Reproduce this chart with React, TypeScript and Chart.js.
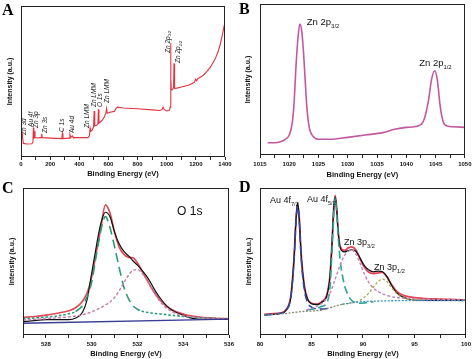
import React, { useEffect, useRef } from 'react';
import { Chart, registerables } from 'chart.js';

Chart.register(...registerables);

const W = 474;
const H = 359;
const FONT = '"Liberation Sans", Arial, Helvetica, sans-serif';
const SERIF = '"Liberation Serif", "Times New Roman", serif';

// ---------- Panel A : survey spectrum ----------
const surveyEnergy = [0, 6, 9, 11, 16, 40, 75, 82, 85, 88, 92, 96, 110, 138, 142, 146, 200, 280, 284, 288, 330, 336, 342, 352, 356, 360, 460, 470, 474, 478, 490, 498, 502, 506, 520, 528, 531, 535, 555, 572, 582, 587, 592, 610, 640, 652, 662, 700, 800, 900, 955, 968, 975, 982, 1000, 1015, 1020, 1024, 1027, 1029, 1032, 1040, 1047, 1050, 1052.5, 1056, 1070, 1100, 1150, 1190, 1198, 1205, 1215, 1250, 1275, 1300, 1330, 1350, 1366, 1380, 1393, 1400];
const surveyIntensity = [12.4, 13, 15, 13, 9, 8.6, 8.8, 10, 19.5, 12, 17, 13, 12.6, 12.8, 15.4, 12.8, 12.5, 12.2, 15.6, 12.2, 12.5, 15, 13, 14, 13.2, 12.8, 12.8, 14, 19, 17, 18, 20, 30.5, 20.5, 21, 22, 31.6, 22.5, 24, 26.5, 29, 32.2, 29, 29.6, 30.2, 32, 33, 32.4, 32, 31.2, 30.8, 31.5, 33, 31.5, 30.5, 30.8, 31.5, 33, 75.3, 52, 44.5, 44.6, 46, 62, 48, 45.5, 45.6, 46.4, 47.5, 49.5, 51.5, 50.5, 52, 54, 56.5, 59.5, 64.5, 69, 74, 80, 86.3, 89];
const surveyLabelText = ['Zn 3d', 'Au 4f', 'Zn 3p', 'Zn 3s', 'C 1s', 'Au 4d', 'Zn LMM', 'Zn LMM', 'O 1s', 'Zn LMM', 'Zn 2p', 'Zn 2p'];
const surveyLabelSub = ['', '', '', '', '', '', '', '', '', '', '3/2', '1/2'];
const surveyLabelX = [24, 69, 103, 168, 285, 353, 456, 504, 546, 594, 1009, 1081];
const surveyLabelY = [14.6, 19.9, 19.2, 15.9, 16.6, 15.9, 19.2, 33.1, 33.1, 35.8, 68.9, 62.3];

// ---------- Panel B : Zn 2p ----------
const zn2pEnergy = [1016.3, 1017.5, 1018.5, 1019.3, 1020, 1020.5, 1020.8, 1021.2, 1021.5, 1021.8, 1022.1, 1022.4, 1022.7, 1023, 1023.3, 1023.6, 1024, 1025, 1027, 1030, 1033, 1036, 1038, 1040, 1042, 1043, 1043.8, 1044.3, 1044.85, 1045.3, 1045.8, 1046.3, 1047, 1048, 1050];
const zn2pIntensity = [8.1, 8.1, 8.8, 10.4, 13.2, 21, 33, 62, 78, 86.8, 83, 70, 51, 32, 21, 15.5, 12.6, 10.4, 10.4, 11.7, 13.2, 14.8, 17, 18.3, 19.2, 23.2, 36.4, 49.7, 55.8, 49.7, 32, 22, 19.2, 18.7, 18.3];
const zn2pLabelText = ['Zn 2p', 'Zn 2p'];
const zn2pLabelSub = ['3/2', '1/2'];
const zn2pLabelX = [1023.0, 1042.2];
const zn2pLabelY = [86, 59];

// ---------- Panel C : O 1s ----------
const o1sEnergy = [527, 527.5, 528, 528.5, 529, 529.3, 529.6, 529.8, 530.0, 530.2, 530.4, 530.6, 530.8, 531.0, 531.2, 531.4, 531.6, 531.8, 532.0, 532.2, 532.4, 532.6, 532.8, 533.0, 533.3, 533.6, 534.0, 534.4, 534.8, 535.4, 536];
const o1sFit = [12.0, 12.6, 13.5, 14.8, 16.5, 18.5, 23, 28.5, 39.5, 56, 73, 88.5, 83, 70, 60, 55, 53, 52.5, 49, 43.5, 38, 32.5, 27.5, 23.5, 19.3, 16.5, 14.3, 12.8, 12, 11.4, 11];
const o1sRaw = [9, 9.8, 10.4, 10.5, 10.4, 11.5, 15.5, 24, 42, 60, 76, 83.5, 80.5, 70, 62, 57, 54, 50.5, 47.5, 44, 40, 35, 29.5, 25, 19.5, 16, 13.5, 11.3, 10.7, 10.6, 10.6];
const o1sLattice = [11, 11.6, 12.2, 13, 14.5, 16, 20, 26, 36, 54, 71, 80.5, 73, 60, 46, 33, 25, 20, 17.5, 16.2, 15.5, 15, 14.6, 14.3, 13.8, 13.3, 12.6, 12.1, 11.7, 11.3, 11];
const o1sDefect = [10, 10.6, 11.1, 11.7, 12.3, 12.9, 13.8, 14.6, 15.8, 17.1, 18.7, 20.3, 22.5, 25.5, 30, 35.5, 40.5, 44, 44.5, 42, 37.5, 32, 27, 22.5, 18, 15.3, 13.2, 12.2, 11.6, 11.2, 11];
const o1sBaseEnergy = [527, 536];
const o1sBase = [8, 10.8];
const o1sLabelText = ['O 1s'];
const o1sLabelX = [533.73];
const o1sLabelY = [81.6];

// ---------- Panel D : Au 4f / Zn 3p ----------
const dEnergy = [80.4, 81, 82, 82.5, 83.0, 83.3, 83.5, 83.65, 83.8, 84.0, 84.3, 84.6, 85, 85.5, 86, 86.5, 86.8, 87.0, 87.15, 87.3, 87.45, 87.6, 87.8, 88.2, 88.6, 88.9, 89.3, 89.7, 90.1, 90.5, 91.0, 91.5, 91.9, 92.3, 92.8, 93.3, 94, 95, 97, 100];
const dFit = [14.1, 14.4, 15.1, 17, 27, 52, 79, 89, 81, 55, 34, 25, 21.6, 21, 22.7, 27.7, 41, 63.5, 85, 95, 86, 70, 60, 57.5, 59.4, 60, 58, 52.2, 46.5, 43, 41.7, 42.3, 42.6, 39.7, 34, 29.5, 26.8, 25.4, 24.5, 23.8];
const dRaw = [13.5, 13.9, 14.6, 16.5, 26, 51, 79, 90, 80, 54, 33, 24.5, 21.2, 20.6, 22.3, 27, 40, 63, 85, 94, 85, 69, 59, 56.5, 57.5, 58, 57, 52.5, 47.5, 44.5, 43, 43.5, 43, 40, 33.5, 28.5, 25.5, 23.8, 23.6, 23.5];
const au72Energy = [80.4, 81, 82, 82.5, 83.0, 83.3, 83.5, 83.65, 83.8, 84.0, 84.3, 84.6, 85, 85.5, 86, 86.5, 87];
const au72 = [13.6, 14, 14.8, 16.5, 26, 50, 77, 87.5, 79, 52, 31, 22.5, 19, 17.8, 17.6, 18, 18.6];
const au52Energy = [84.5, 85, 85.5, 86, 86.5, 86.8, 87.0, 87.15, 87.3, 87.45, 87.6, 87.8, 88.2, 88.6, 88.9, 89.3, 89.7, 90.1, 90.5, 91];
const au52 = [17, 17.5, 18.2, 19.5, 22, 33, 58, 80, 93, 82, 66, 50, 34, 26.5, 23.5, 22, 21.6, 21.8, 22.2, 22.6];
const zn32Energy = [84.5, 85, 85.5, 86, 86.5, 86.8, 87.0, 87.3, 87.6, 87.8, 88.2, 88.6, 88.9, 89.3, 89.7, 90.1, 90.5, 91.0, 91.5, 91.9, 92.3, 92.8, 93.3, 94, 95, 97, 100];
const zn32 = [17, 18, 19.5, 21.5, 25, 28.5, 32, 38, 44, 48, 54, 57, 57.8, 55, 49, 42, 36.5, 32, 29.5, 28, 27, 26, 25.5, 25, 24.6, 24.2, 23.8];
const zn12Energy = [88, 88.6, 89.3, 89.7, 90.1, 90.5, 91.0, 91.5, 91.9, 92.3, 92.8, 93.3, 94, 95, 96];
const zn12 = [20.9, 21.5, 22.5, 23.5, 25.5, 28, 32.5, 36.5, 38, 36.5, 32, 28, 25, 24, 23.8];
const dBaseEnergy = [80.4, 82, 84, 86, 87, 88, 89, 90, 92, 95, 100];
const dBase = [13.6, 14.3, 15.9, 17, 19, 20.9, 22, 22.7, 23.2, 23.4, 23.3];
const dLabelText = ['Au 4f', 'Au 4f', 'Zn 3p', 'Zn 3p'];
const dLabelSub = ['7/2', '5/2', '3/2', '1/2'];
const dLabelX = [80.97, 84.56, 88.16, 91.07];
const dLabelY = [89.8, 90.5, 61.2, 44.2];

const zip = (xs: number[], ys: number[]) => xs.map((x, i) => ({ x, y: ys[i] }));

type Label = { text: string; sub: string; x: number; y: number };
const mkLabels = (t: string[], s: string[], x: number[], y: number[]): Label[] =>
  t.map((text, i) => ({ text, sub: s[i] || '', x: x[i], y: y[i] }));

type Panel = {
  letter: string;
  letterX: number;
  letterY: number;
  box: { left: number; top: number; right: number; bottom: number };
  yTitleX: number;
  xTitleY: number;
  xMin: number;
  xMax: number;
  step: number;
  major: number;
  tickPad: number;
  datasets: any[];
  labels: Label[];
  labelSize: number;
  labelItalic: boolean;
  rotated: boolean;
  labelColor: string;
};

const line = (data: any[], color: string, width: number, extra: any = {}) => ({
  data,
  borderColor: color,
  borderWidth: width,
  pointRadius: 0,
  fill: false,
  cubicInterpolationMode: 'monotone',
  ...extra,
});

const panels: Panel[] = [
  {
    letter: 'A', letterX: 2, letterY: 15,
    box: { left: 21, top: 6, right: 225, bottom: 157 },
    yTitleX: 10, xTitleY: 174,
    xMin: 0, xMax: 1400, step: 100, major: 200, tickPad: 1,
    datasets: [line(zip(surveyEnergy, surveyIntensity), '#e2343f', 1.1, { cubicInterpolationMode: 'default', tension: 0 })],
    labels: mkLabels(surveyLabelText, surveyLabelSub, surveyLabelX, surveyLabelY),
    labelSize: 6.5, labelItalic: true, rotated: true, labelColor: '#222',
  },
  {
    letter: 'B', letterX: 239, letterY: 14,
    box: { left: 260, top: 4, right: 466, bottom: 155 },
    yTitleX: 248, xTitleY: 174.5,
    xMin: 1015, xMax: 1050, step: 2.5, major: 5, tickPad: 2.5,
    datasets: [line(zip(zn2pEnergy, zn2pIntensity), '#c4589e', 1.6)],
    labels: mkLabels(zn2pLabelText, zn2pLabelSub, zn2pLabelX, zn2pLabelY),
    labelSize: 9.5, labelItalic: false, rotated: false, labelColor: '#111',
  },
  {
    letter: 'C', letterX: 2, letterY: 193,
    box: { left: 23, top: 188, right: 229, bottom: 335 },
    yTitleX: 12.5, xTitleY: 354,
    xMin: 527, xMax: 536, step: 1, major: 2, tickPad: 3,
    datasets: [
      line(zip(o1sBaseEnergy, o1sBase), '#3a3d95', 1.3, { cubicInterpolationMode: 'default', tension: 0 }),
      line(zip(o1sEnergy, o1sDefect), '#c97aa9', 1.4, { borderDash: [3, 2] }),
      line(zip(o1sEnergy, o1sLattice), '#2b9a72', 1.6, {
        segment: {
          borderDash: (ctx: any) => (ctx.p0.parsed.y > 19 || ctx.p1.parsed.y > 19 ? [9, 5] : [2.5, 2]),
        },
      }),
      line(zip(o1sEnergy, o1sRaw), '#111111', 1.2),
      line(zip(o1sEnergy, o1sFit), '#e24a58', 1.7),
    ],
    labels: mkLabels(o1sLabelText, [''], o1sLabelX, o1sLabelY),
    labelSize: 12, labelItalic: false, rotated: false, labelColor: '#111',
  },
  {
    letter: 'D', letterX: 239, letterY: 192,
    box: { left: 260, top: 188, right: 466, bottom: 335 },
    yTitleX: 249.5, xTitleY: 354,
    xMin: 80, xMax: 100, step: 2.5, major: 5, tickPad: 3,
    datasets: [
      line(zip(dBaseEnergy, dBase), '#3a8fc4', 1.3, {
        borderDash: [2, 1.5],
        segment: { borderColor: (ctx: any) => (ctx.p0.parsed.x < 87.5 ? '#8a8a6c' : '#3a8fc4') },
      }),
      line(zip(zn12Energy, zn12), '#a9a83e', 1.3, { borderDash: [2.5, 2] }),
      line(zip(zn32Energy, zn32), '#c67ec2', 1.4, { borderDash: [3, 2] }),
      line(zip(au52Energy, au52), '#2aa596', 1.6, { borderDash: [8, 4] }),
      line(zip(au72Energy, au72), '#2d4aa0', 1.6, { borderDash: [8, 4] }),
      line(zip(dEnergy, dRaw), '#111111', 1.2),
      line(zip(dEnergy, dFit), '#e2455a', 1.8),
    ],
    labels: mkLabels(dLabelText, dLabelSub, dLabelX, dLabelY),
    labelSize: 9, labelItalic: false, rotated: false, labelColor: '#111',
  },
];

function buildConfig(p: Panel): any {
  const yTitleSize = 7;
  const xTitleSize = 7.5;
  const yLH = yTitleSize * 1.2;
  const xLH = xTitleSize * 1.2;
  const padLeft = p.yTitleX - yLH / 2;
  const yW = p.box.left - padLeft;
  const xH = p.xTitleY + xLH / 2 - p.box.bottom;
  const padBottom = H - p.box.bottom - xH;

  const deco = {
    id: 'deco' + p.letter,
    afterDraw(chart: any) {
      const { ctx, chartArea: a, scales } = chart;
      ctx.save();
      // frame
      ctx.strokeStyle = '#222';
      ctx.lineWidth = 1;
      const l = Math.round(a.left) + 0.5;
      const t = Math.round(a.top) + 0.5;
      const r = Math.round(a.right) - 0.5;
      const b = Math.round(a.bottom) - 0.5;
      ctx.strokeRect(l, t, r - l, b - t);
      // annotations
      ctx.fillStyle = p.labelColor;
      const style = p.labelItalic ? 'italic ' : '';
      for (const lb of p.labels) {
        const px = scales.x.getPixelForValue(lb.x);
        const py = scales.y.getPixelForValue(lb.y);
        ctx.save();
        ctx.translate(px, py);
        if (p.rotated) ctx.rotate(-Math.PI / 2);
        ctx.textAlign = 'left';
        ctx.textBaseline = p.rotated ? 'middle' : 'alphabetic';
        ctx.font = `${style}${p.labelSize}px ${FONT}`;
        ctx.fillText(lb.text, 0, 0);
        if (lb.sub) {
          const w = ctx.measureText(lb.text).width;
          ctx.font = `${style}${p.labelSize * 0.62}px ${FONT}`;
          ctx.fillText(lb.sub, w, p.labelSize * 0.3);
        }
        ctx.restore();
      }
      // panel letter
      ctx.fillStyle = '#000';
      ctx.font = `bold 16px ${SERIF}`;
      ctx.textAlign = 'left';
      ctx.textBaseline = 'alphabetic';
      ctx.fillText(p.letter, p.letterX, p.letterY);
      ctx.restore();
    },
  };

  return {
    type: 'line',
    data: { datasets: p.datasets },
    options: {
      animation: false,
      responsive: false,
      devicePixelRatio: 1,
      parsing: true,
      layout: {
        padding: { left: padLeft, top: p.box.top, right: W - p.box.right, bottom: padBottom },
      },
      plugins: { legend: { display: false }, tooltip: { enabled: false }, title: { display: false } },
      scales: {
        x: {
          type: 'linear',
          min: p.xMin,
          max: p.xMax,
          afterFit: (s: any) => { s.height = xH; },
          border: { display: false },
          grid: { display: true, drawOnChartArea: false, drawTicks: true, tickLength: 3, color: '#222', lineWidth: 1 },
          ticks: {
            stepSize: p.step,
            autoSkip: false,
            maxRotation: 0,
            padding: p.tickPad,
            color: '#111',
            font: { family: FONT, size: 6, weight: 'bold' },
            callback: (v: any) => {
              const n = Number(v);
              return Math.abs(n / p.major - Math.round(n / p.major)) < 1e-6 ? String(n) : '';
            },
          },
          title: {
            display: true,
            text: 'Binding Energy (eV)',
            color: '#111',
            padding: { top: 0, bottom: 0 },
            font: { family: FONT, size: xTitleSize, weight: 'bold' },
          },
        },
        y: {
          type: 'linear',
          min: 0,
          max: 100,
          afterFit: (s: any) => { s.width = yW; },
          border: { display: false },
          grid: { display: false },
          ticks: { display: false },
          title: {
            display: true,
            text: 'Intensity (a.u.)',
            color: '#111',
            padding: { top: 0, bottom: 0 },
            font: { family: FONT, size: yTitleSize, weight: 'bold' },
          },
        },
      },
    },
    plugins: [deco],
  };
}

function PanelChart({ panel }: { panel: Panel }) {
  const ref = useRef<HTMLCanvasElement | null>(null);
  useEffect(() => {
    if (!ref.current) return;
    const chart = new Chart(ref.current, buildConfig(panel));
    return () => chart.destroy();
  }, [panel]);
  return (
    <canvas
      ref={ref}
      width={W}
      height={H}
      style={{ position: 'absolute', left: 0, top: 0, width: W, height: H }}
    />
  );
}

export default function App() {
  return (
    <div style={{ position: 'absolute', left: 0, top: 0, width: W, height: H, background: '#fff', overflow: 'hidden' }}>
      {panels.map((p) => (
        <PanelChart key={p.letter} panel={p} />
      ))}
    </div>
  );
}
